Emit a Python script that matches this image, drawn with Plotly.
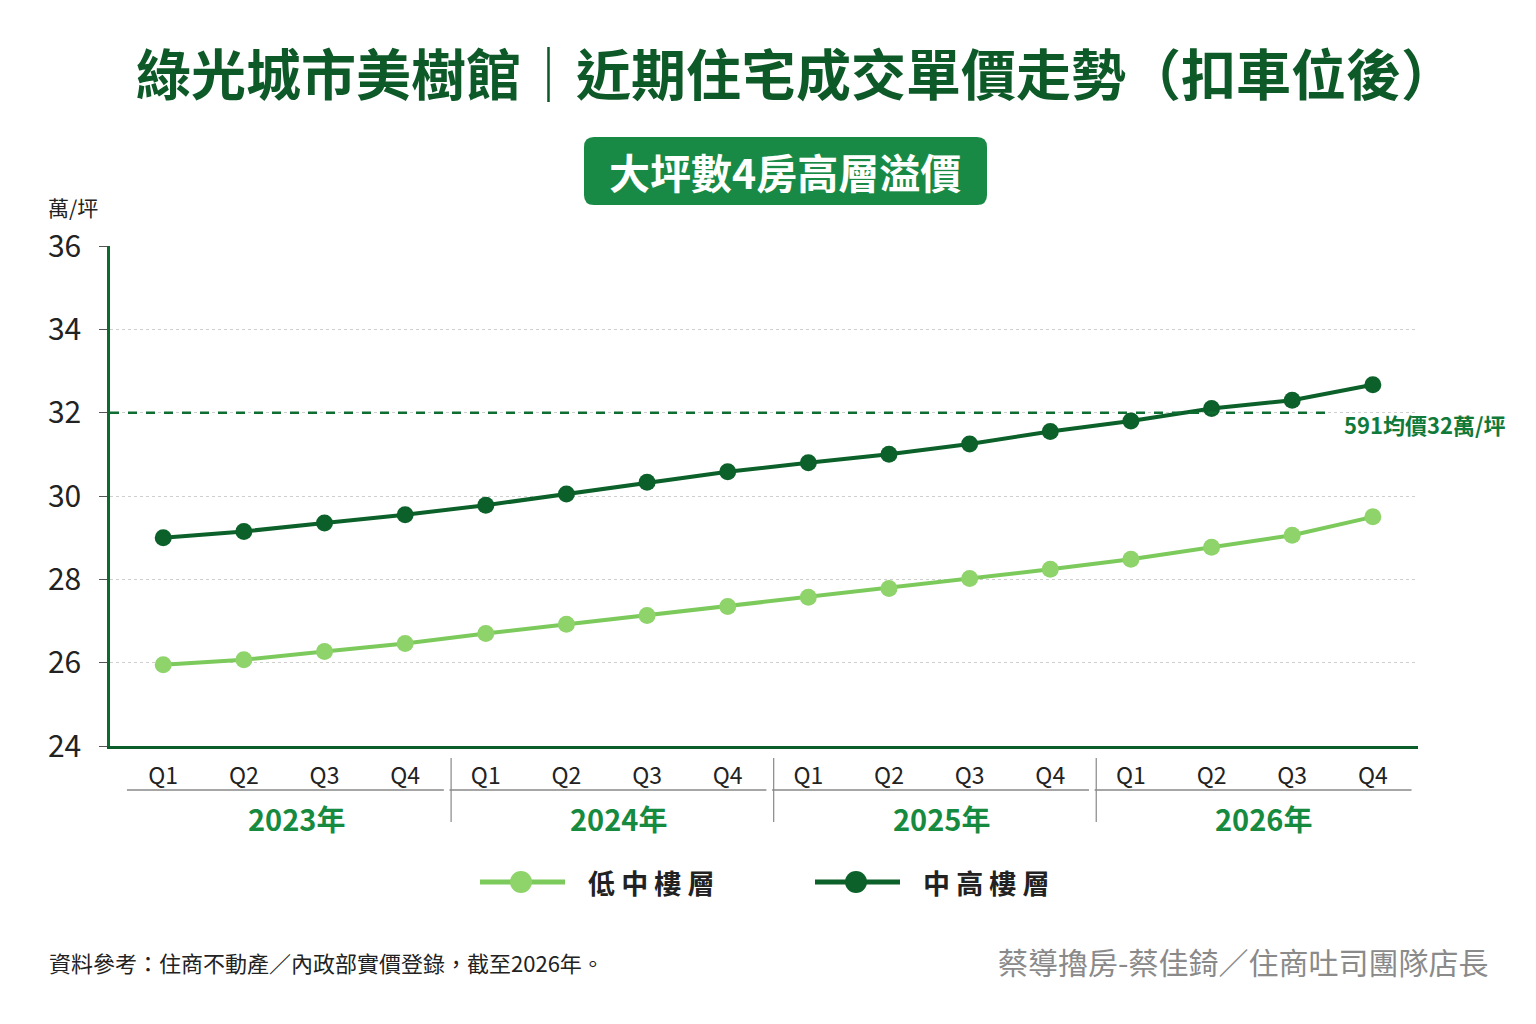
import plotly.graph_objects as go

# 資料
quarters = ["Q1", "Q2", "Q3", "Q4"] * 4
years = ["2023年", "2024年", "2025年", "2026年"]
low_mid = [25.95, 26.07, 26.27, 26.46, 26.70, 26.92, 27.13, 27.35,
           27.57, 27.78, 28.02, 28.24, 28.48, 28.77, 29.06, 29.50]
mid_high = [29.00, 29.15, 29.35, 29.55, 29.78, 30.05, 30.33, 30.58,
            30.80, 31.00, 31.25, 31.55, 31.80, 32.10, 32.30, 32.67]
avg_591 = 32
y_ticks = [24, 26, 28, 30, 32, 34, 36]
series_names = ["低中樓層", "中高樓層"]

FONT = "Noto Sans CJK TC"
DARK = "#0b6129"
LIGHT = "#7dca5c"
LIGHT_MK = "#8fd36b"

# 畫面像素 -> paper 座標 (繪圖區 x:110~1418, y:246~746)
def px(X):
    return (X - 110) / 1308

def py_(Y):
    return (746 - Y) / 500

x = list(range(len(quarters)))

fig = go.Figure()
fig.add_trace(go.Scatter(
    x=x, y=low_mid, mode="lines+markers", name=series_names[0],
    line=dict(color=LIGHT, width=4),
    marker=dict(size=17, color=LIGHT_MK, line=dict(width=0)),
))
fig.add_trace(go.Scatter(
    x=x, y=mid_high, mode="lines+markers", name=series_names[1],
    line=dict(color=DARK, width=4),
    marker=dict(size=17, color=DARK, line=dict(width=0)),
))

shapes = []
# 591均價虛線
shapes.append(dict(type="line", xref="paper", yref="y", x0=0, x1=px(1325),
                   y0=avg_591, y1=avg_591,
                   line=dict(color="#0e6e31", width=2.5, dash="dash")))
# 年份分隔線與底線
for i in range(4):
    shapes.append(dict(type="line", xref="x", yref="paper",
                       x0=i * 4 - 0.45, x1=i * 4 + 3.48, y0=py_(790), y1=py_(790),
                       line=dict(color="#888888", width=1.5)))
for i in range(1, 4):
    shapes.append(dict(type="line", xref="x", yref="paper",
                       x0=i * 4 - 0.43, x1=i * 4 - 0.43, y0=py_(758), y1=py_(822),
                       line=dict(color="#888888", width=1.2)))

# 標籤框 (圓角)
x0, x1, y0, y1 = px(584), px(987), py_(205), py_(137)
rx, ry = 10 / 1308, 10 / 500
path = (f"M{x0+rx},{y0} L{x1-rx},{y0} Q{x1},{y0} {x1},{y0+ry} "
        f"L{x1},{y1-ry} Q{x1},{y1} {x1-rx},{y1} L{x0+rx},{y1} "
        f"Q{x0},{y1} {x0},{y1-ry} L{x0},{y0+ry} Q{x0},{y0} {x0+rx},{y0} Z")
shapes.append(dict(type="path", xref="paper", yref="paper", path=path,
                   fillcolor="#198a45", line=dict(width=0), layer="above"))

# 圖例 (手動繪製)
legend_items = [(480, 565, 521, 586, LIGHT, LIGHT_MK), (815, 900, 856, 921, DARK, DARK)]
r = 11
for lx0, lx1, mx, tx, lc, mc in legend_items:
    shapes.append(dict(type="line", xref="paper", yref="paper",
                       x0=px(lx0), x1=px(lx1), y0=py_(882), y1=py_(882),
                       line=dict(color=lc, width=5)))
    shapes.append(dict(type="circle", xref="paper", yref="paper",
                       x0=px(mx - r), x1=px(mx + r), y0=py_(882 + r), y1=py_(882 - r),
                       fillcolor=mc, line=dict(width=0)))

annotations = [
    dict(text="<b>綠光城市美樹館｜近期住宅成交單價走勢（扣車位後）</b>",
         xref="paper", yref="paper", x=px(796), y=py_(71),
         xanchor="center", yanchor="middle",
         showarrow=False, font=dict(family=FONT, size=55, color="#0d5a28")),
    dict(text="<b>大坪數4房高層溢價</b>", xref="paper", yref="paper",
         x=px(785), y=py_(171), xanchor="center", yanchor="middle", showarrow=False,
         font=dict(family=FONT, size=41, color="white")),
    dict(text="萬/坪", xref="paper", yref="paper", x=px(73), y=py_(207),
         xanchor="center", yanchor="middle", showarrow=False,
         font=dict(family=FONT, size=21, color="#222222")),
    dict(text="<b>591均價32萬/坪</b>", xref="paper", yref="paper",
         x=px(1342), y=py_(424), xanchor="left", yanchor="middle",
         showarrow=False, font=dict(family=FONT, size=22, color="#107a3a")),
    dict(text="資料參考：住商不動產／內政部實價登錄，截至2026年。",
         xref="paper", yref="paper", x=px(47), y=py_(962),
         xanchor="left", yanchor="middle", showarrow=False,
         font=dict(family=FONT, size=22, color="#222222")),
    dict(text="蔡導擼房-蔡佳錡／住商吐司團隊店長",
         xref="paper", yref="paper", x=px(1490), y=py_(961),
         xanchor="right", yanchor="middle", showarrow=False,
         font=dict(family=FONT, size=30, color="#8a8a8a")),
]
for i, yr in enumerate(years):
    annotations.append(dict(text=f"<b>{yr}</b>", xref="x", yref="paper",
                            x=i * 4 + 1.65, y=py_(818), xanchor="center",
                            yanchor="middle", showarrow=False,
                            font=dict(family=FONT, size=29, color="#168a3f")))
for (lx0, lx1, mx, tx, lc, mc), name in zip(legend_items, series_names):
    annotations.append(dict(text=f"<b>{' '.join(name)}</b>", xref="paper", yref="paper",
                            x=px(tx), y=py_(882), xanchor="left", yanchor="middle",
                            showarrow=False,
                            font=dict(family=FONT, size=27, color="#222222")))

fig.update_layout(
    width=1536, height=1024,
    margin=dict(l=102, r=126, t=238, b=286),
    paper_bgcolor="white", plot_bgcolor="white",
    font=dict(family=FONT, color="#222222"),
    showlegend=False,
    shapes=shapes, annotations=annotations,
    xaxis=dict(range=[-0.66, 15.56], tickmode="array", tickvals=x,
               ticktext=quarters, showgrid=False, zeroline=False,
               showline=True, linecolor="#0b5e2a", linewidth=3,
               tickfont=dict(family=FONT, size=23, color="#222222"),
               ticks="", ticklabelstandoff=7),
    yaxis=dict(range=[24, 36], tickvals=y_ticks, showgrid=True,
               gridcolor="#cfcfcf", griddash="dot", gridwidth=1,
               zeroline=False, showline=True, linecolor="#0b6b2e", linewidth=2.5,
               ticks="outside", ticklen=8, tickcolor="#555555",
               ticklabelstandoff=12,
               tickfont=dict(family=FONT, size=30, color="#222222")),
)

fig.write_html("out.html")
